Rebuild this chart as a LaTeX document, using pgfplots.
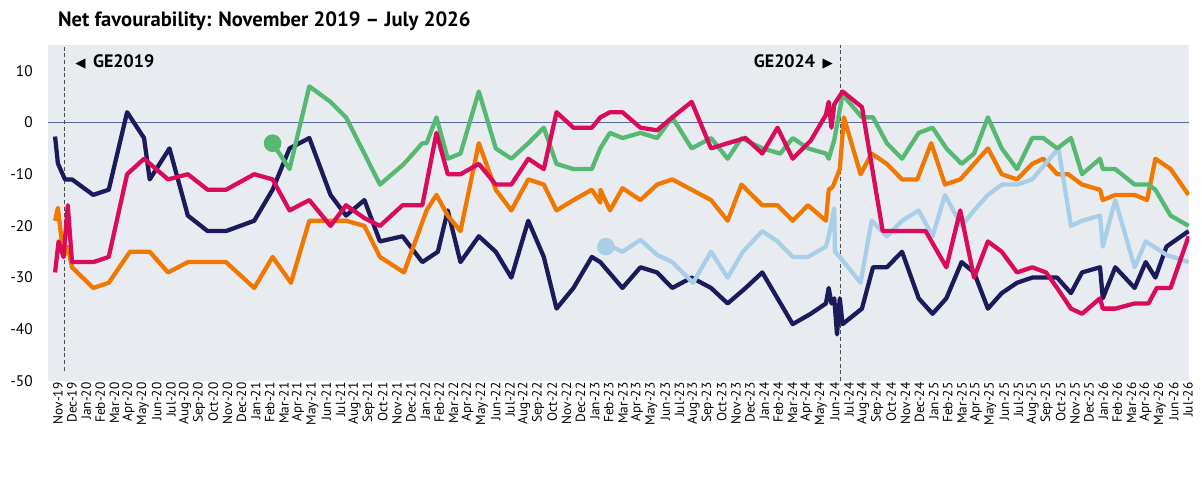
\documentclass[border=0pt]{standalone}
\usepackage{pgfplots}
\pgfplotsset{compat=1.18}
\usepackage{pgfplotstable}
\usepackage{fontspec}
\setmainfont{PT Sans}
\newfontfamily\dv{DejaVu Sans}
\definecolor{con}{HTML}{1B1A5A}
\definecolor{lab}{HTML}{D90C5C}
\definecolor{ld}{HTML}{F07800}
\definecolor{grn}{HTML}{55B873}
\definecolor{ref}{HTML}{A9CFE8}
\definecolor{bg}{HTML}{E8EBF0}
\definecolor{zl}{HTML}{5A6A9A}
\pgfplotstableread{
x y
-0.2 -2.7
0 -7.9
0.5 -11
1.0 -11
2.5 -14
3.6 -13
4.9 2
6.1 -3
6.5 -11
7.9 -5
9.2 -18
10.6 -21
11.9 -21
13.9 -19
15.2 -13
16.4 -5
17.8 -3
19.3 -14
20.4 -18
21.7 -15
22.8 -23
24.4 -22
25.8 -27
26.9 -25
27.6 -17
28.5 -27
29.8 -22
31.0 -25
32.1 -30
33.3 -19
34.4 -26
35.3 -36
36.5 -32
37.8 -26
38.4 -27
40.0 -32
41.3 -28
42.5 -29
43.6 -32
45.0 -30
46.4 -32
47.6 -35
48.9 -32
50.1 -29
51.2 -34
52.3 -39
53.6 -37
54.7 -35
54.9 -32
55.1 -35
55.3 -34
55.5 -41
55.7 -34
55.9 -39
57.3 -36
58.1 -28
59.1 -28
60.2 -25
61.4 -34
62.4 -37
63.4 -34
64.5 -27
65.4 -29
66.4 -36
67.4 -33
68.5 -31
69.6 -30
71.4 -30
72.4 -33
73.2 -29
74.5 -28
74.7 -34
75.6 -28
77.0 -32
77.8 -27
78.5 -30
79.3 -24
80.9 -21
}\con
\pgfplotstableread{
x y
-0.2 -29
0.05 -23
0.4 -26
0.7 -16
1.0 -27
2.5 -27
3.6 -26
4.9 -10
6.1 -7
7.8 -11
9.2 -10
10.6 -13
11.9 -13
13.9 -10
15.2 -11
16.4 -17
17.8 -15
19.3 -20
20.4 -16
21.7 -18.5
22.8 -20
24.4 -16
25.8 -16
26.8 -2
27.6 -10
28.5 -10
29.8 -8
31.0 -12
32.1 -12
33.3 -7
34.4 -9
35.3 2
36.5 -1
37.8 -1
38.4 1
39.1 2
40.0 2
41.3 -1
42.5 -1.5
43.6 1
45.0 4
46.4 -5
47.6 -4
48.9 -3
50.1 -6
51.2 -1
52.3 -7
53.6 -3.5
54.7 1.5
54.9 4
55.1 -1
55.3 3.5
55.9 6
57.3 3
58.8 -21
60.2 -21
61.9 -21
63.4 -28
64.4 -17
65.4 -30
66.4 -23
67.4 -25
68.5 -29
69.6 -28
70.6 -29
71.4 -32
72.4 -36
73.2 -37
74.5 -34
74.7 -36
75.6 -36
77.0 -35
78.0 -35
78.6 -32
79.6 -32
80.9 -22
}\lab
\pgfplotstableread{
x y
-0.2 -19
0 -16.5
0.4 -26
0.7 -24
1.0 -28
2.5 -32
3.6 -31
5.1 -25
6.5 -25
7.8 -29
9.2 -27
11.9 -27
13.9 -32
15.2 -26
16.5 -31
17.8 -19
20.4 -19
21.7 -20
22.8 -26
24.5 -29
26.1 -17
26.8 -14
27.6 -18
28.5 -21
29.8 -4
31.0 -13
32.1 -17
33.3 -11
34.4 -12
35.3 -17
36.5 -15
37.8 -13
38.4 -15.5
38.41 -13
39.1 -17
40.0 -12.7
41.3 -15
42.5 -12
43.6 -11
45.0 -13
46.4 -15
47.6 -19
48.6 -12
50.1 -16
51.2 -16
52.3 -19
53.4 -16
54.7 -19
54.9 -13
55.2 -12.4
55.7 -9
56.0 1
57.2 -10
58.0 -6
59.1 -8
60.2 -11
61.3 -11
62.3 -4
63.3 -12
64.4 -11
65.4 -8
66.4 -5
67.4 -10
68.5 -11
69.6 -8
70.4 -7
71.4 -10
72.2 -10
73.2 -12
74.5 -13
74.7 -15
75.6 -14
77.0 -14
77.9 -15
78.5 -7
79.6 -9
80.9 -14
}\ld
\pgfplotstableread{
x y
15.2 -4
16.4 -9
17.8 7
19.3 4
20.4 1
22.8 -12
24.5 -8
25.8 -4
26.1 -4
26.8 1
27.6 -7
28.5 -6
29.8 6
31.0 -5
32.1 -7
33.3 -4
34.4 -1
35.3 -8
36.5 -9
37.8 -9
38.4 -5
39.1 -2
40.0 -3
41.3 -2
42.5 -3
43.6 1
45.0 -5
46.4 -3
47.6 -7
48.6 -3
50.1 -5
51.4 -6
52.3 -3
53.4 -5
54.7 -6
54.9 -7
55.3 -3.4
55.9 5.4
57.3 1
58.1 1
59.1 -4
60.2 -7
61.4 -2
62.4 -1
63.4 -5
64.5 -8
65.4 -6
66.4 1
67.4 -5
68.5 -9
69.6 -3
70.4 -3
71.4 -5
72.4 -3
73.2 -10
74.5 -7
74.7 -9
75.6 -9
77.0 -12
78.0 -12
78.5 -13
79.6 -18
80.9 -20
}\grn
\pgfplotstableread{
x y
39.2 -24
40.0 -25
41.3 -22.7
42.5 -25.6
43.6 -27
45.1 -31
46.4 -25
47.6 -30
48.7 -25
50.1 -21
51.2 -23
52.3 -26
53.4 -26
54.7 -24
54.9 -22
55.3 -16.6
55.35 -25
55.7 -26
57.2 -31
58.0 -19
59.1 -22
60.2 -19
61.4 -17
62.4 -22
63.3 -14
64.5 -20
65.4 -17
66.4 -14
67.4 -12
68.5 -12
69.6 -11
71.5 -5
72.4 -20
73.2 -19
74.5 -18
74.7 -24
75.6 -15
77.0 -28
77.8 -23
79.3 -25.6
80.9 -27
}\rfm
\begin{document}
\begin{tikzpicture}
\begin{axis}[
  at={(36pt,72pt)}, anchor=south west,
  width=856pt, height=252pt, scale only axis,
  xmin=-0.7, xmax=80.1, ymin=-50, ymax=15,
  axis background/.style={fill=bg},
  axis line style={draw=none},
  ytick={-50,-40,...,10},
  yticklabel style={font=\fontsize{11.5}{13}\selectfont, xshift=-8pt},
  /pgf/number format/assume math mode=true,
  xtick={0,...,80},
  xticklabels={Nov-19,Dec-19,Jan-20,Feb-20,Mar-20,Apr-20,May-20,Jun-20,Jul-20,Aug-20,Sep-20,Oct-20,Nov-20,Dec-20,Jan-21,Feb-21,Mar-21,Apr-21,May-21,Jun-21,Jul-21,Aug-21,Sep-21,Oct-21,Nov-21,Dec-21,Jan-22,Feb-22,Mar-22,Apr-22,May-22,Jun-22,Jul-22,Aug-22,Sep-22,Oct-22,Nov-22,Dec-22,Jan-23,Feb-23,Mar-23,Apr-23,May-23,Jun-23,Jul-23,Aug-23,Sep-23,Oct-23,Nov-23,Dec-23,Jan-24,Feb-24,Mar-24,Apr-24,May-24,Jun-24,Jul-24,Aug-24,Sep-24,Oct-24,Nov-24,Dec-24,Jan-25,Feb-25,Mar-25,Apr-25,May-25,Jun-25,Jul-25,Aug-25,Sep-25,Oct-25,Nov-25,Dec-25,Jan-26,Feb-26,Mar-26,Apr-26,May-26,Jun-26,Jul-26},
  xticklabel style={rotate=90, anchor=east, font=\fontsize{10}{11}\selectfont, inner sep=1pt},
  major tick length=0pt,
  clip mode=individual,
  every axis plot/.append style={line width=3.2pt, line join=round, no marks},
]
\draw[zl, line width=0.8pt] (axis cs:-0.7,0) -- (axis cs:80.1,0);
\draw[densely dashed, line width=0.6pt, black!70] (axis cs:0.45,-48) -- (axis cs:0.45,15);
\draw[densely dashed, line width=0.6pt, black!70] (axis cs:55.4,-50) -- (axis cs:55.4,15);
\addplot[con] table[x expr={\thisrowno{0}>38.37 ? 38.37+(\thisrowno{0}-38.37)*0.98 : \thisrowno{0}}] {\con};
\addplot[ld] table[x expr={\thisrowno{0}>38.37 ? 38.37+(\thisrowno{0}-38.37)*0.98 : \thisrowno{0}}] {\ld};
\addplot[ref] table[x expr={\thisrowno{0}>38.37 ? 38.37+(\thisrowno{0}-38.37)*0.98 : \thisrowno{0}}] {\rfm};
\addplot[grn] table[x expr={\thisrowno{0}>38.37 ? 38.37+(\thisrowno{0}-38.37)*0.98 : \thisrowno{0}}] {\grn};
\addplot[lab] table[x expr={\thisrowno{0}>38.37 ? 38.37+(\thisrowno{0}-38.37)*0.98 : \thisrowno{0}}] {\lab};
\addplot[only marks, mark=*, mark size=5pt, grn] coordinates {(15.2,-4)};
\addplot[only marks, mark=*, mark size=5pt, ref] coordinates {(38.8,-24)};
\node[anchor=west, font=\bfseries\fontsize{13.5}{15}\selectfont] at (axis cs:0.9,11.8) {{\dv\fontsize{10}{10}\selectfont ◀}\, GE2019};
\node[anchor=east, font=\bfseries\fontsize{13.5}{15}\selectfont] at (axis cs:55.2,11.8) {GE2024\, {\dv\fontsize{10}{10}\selectfont ▶}};
\end{axis}
\node[anchor=west, font=\bfseries\fontsize{15.5}{17}\selectfont] at (40pt,342pt) {Net favourability: November 2019 – July 2026};
\path (0,0) rectangle (901.5pt,357.75pt);
\end{tikzpicture}
\end{document}
